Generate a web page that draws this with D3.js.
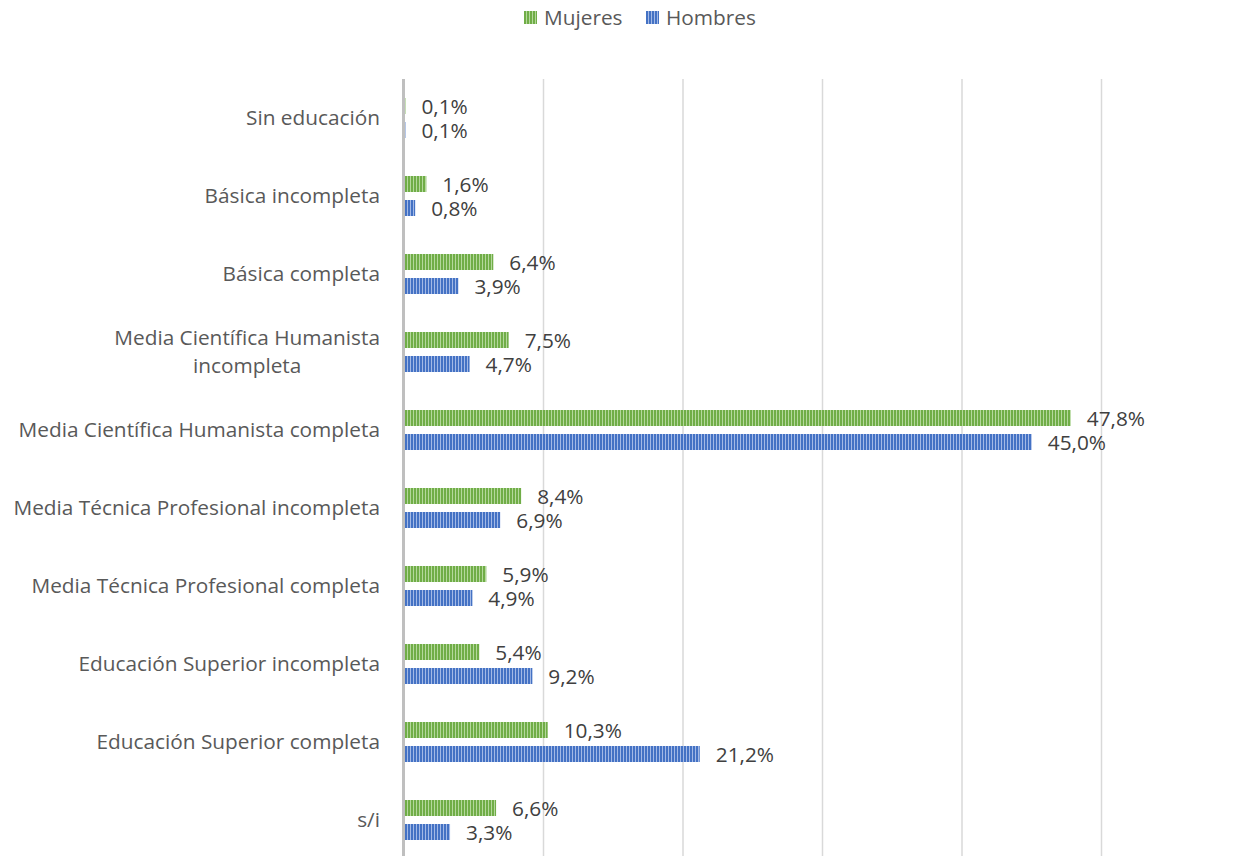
<!DOCTYPE html>
<html>
<head>
<meta charset="utf-8">
<script src="https://cdn.jsdelivr.net/npm/d3@7"></script>
<style>
  body { margin: 0; background: #fff; }
  svg text { font-family: "Open Sans", sans-serif; }
</style>
</head>
<body>
<svg id="chart" width="1241" height="856"></svg>
<script>
// Data
const categories = [
  'Sin educación',
  'Básica incompleta',
  'Básica completa',
  'Media Científica Humanista incompleta',
  'Media Científica Humanista completa',
  'Media Técnica Profesional incompleta',
  'Media Técnica Profesional completa',
  'Educación Superior incompleta',
  'Educación Superior completa',
  's/i'
];
const mujeres = [0.1, 1.6, 6.4, 7.5, 47.8, 8.4, 5.9, 5.4, 10.3, 6.6];
const hombres = [0.1, 0.8, 3.9, 4.7, 45.0, 6.9, 4.9, 9.2, 21.2, 3.3];
const seriesNames = ['Mujeres', 'Hombres'];
const xTicks = [0, 10, 20, 30, 40, 50];

const svg = d3.select('#chart');
const fmt = v => d3.format('.1f')(v).replace('.', ',') + '%';
const fontSize = 20.8;

// Scales
const x = d3.scaleLinear().domain([0, 50]).range([404, 1101.5]);
const y = d3.scaleBand().domain(categories).range([79, 859]);
const inner = d3.scaleBand().domain(seriesNames).range([-20, 20]).paddingInner(1 / 3);

// Striped fills like the Excel pattern
const colors = {
  Mujeres: { dark: '#70ad47', light: '#b4d89c' },
  Hombres: { dark: '#4472c4', light: '#a3b9e6' }
};
const defs = svg.append('defs');
seriesNames.forEach(s => {
  const p = defs.append('pattern')
    .attr('id', 'pat-' + s)
    .attr('patternUnits', 'userSpaceOnUse')
    .attr('width', 3).attr('height', 10);
  p.append('rect').attr('width', 3).attr('height', 10).attr('fill', colors[s].dark);
  p.append('rect').attr('x', 2).attr('width', 1).attr('height', 10).attr('fill', colors[s].light);
});

// Gridlines
svg.append('g')
  .selectAll('line')
  .data(xTicks.slice(1))
  .join('line')
    .attr('x1', d => x(d)).attr('x2', d => x(d))
    .attr('y1', 79).attr('y2', 856)
    .attr('stroke', '#d9d9d9')
    .attr('stroke-width', 1.5);

// Bars
const rows = categories.map((c, i) => ({ cat: c, values: [
  { s: 'Mujeres', v: mujeres[i] },
  { s: 'Hombres', v: hombres[i] }
] }));

const groups = svg.append('g')
  .selectAll('g')
  .data(rows)
  .join('g')
    .attr('transform', d => `translate(0,${y(d.cat) + y.bandwidth() / 2})`);

groups.selectAll('rect')
  .data(d => d.values)
  .join('rect')
    .attr('x', x(0))
    .attr('y', d => inner(d.s))
    .attr('width', d => x(d.v) - x(0))
    .attr('height', inner.bandwidth())
    .attr('fill', d => `url(#pat-${d.s})`);

// Value labels
groups.selectAll('text.val')
  .data(d => d.values)
  .join('text')
    .attr('class', 'val')
    .attr('x', d => x(d.v) + 16)
    .attr('y', d => inner(d.s) + inner.bandwidth() / 2 + 1)
    .attr('dy', '0.35em')
    .attr('font-size', fontSize)
    .attr('fill', '#404040')
    .text(d => fmt(d.v));

// Category labels (wrap the long one, lines centred on each other)
groups.each(function(d) {
  const g = d3.select(this);
  if (d.cat === 'Media Científica Humanista incompleta') {
    const first = g.append('text')
      .attr('x', 380).attr('y', -14).attr('dy', '0.35em')
      .attr('text-anchor', 'end')
      .attr('font-size', fontSize).attr('fill', '#595959')
      .text('Media Científica Humanista');
    const w = first.node().getComputedTextLength();
    g.append('text')
      .attr('x', 380 - w / 2).attr('y', 14).attr('dy', '0.35em')
      .attr('text-anchor', 'middle')
      .attr('font-size', fontSize).attr('fill', '#595959')
      .text('incompleta');
  } else {
    g.append('text')
      .attr('x', 380).attr('y', 0).attr('dy', '0.35em')
      .attr('text-anchor', 'end')
      .attr('font-size', fontSize).attr('fill', '#595959')
      .text(d.cat);
  }
});

// Vertical axis line
svg.append('line')
  .attr('x1', x(0) - 0.5).attr('x2', x(0) - 0.5)
  .attr('y1', 79).attr('y2', 856)
  .attr('stroke', '#bfbfbf')
  .attr('stroke-width', 3);

// Legend
const legendX = [524, 646];
const legend = svg.append('g')
  .selectAll('g')
  .data(seriesNames)
  .join('g')
    .attr('transform', (d, i) => `translate(${legendX[i]},11)`);
legend.append('rect')
  .attr('width', 13).attr('height', 13)
  .attr('fill', d => `url(#pat-${d})`);
legend.append('text')
  .attr('x', 20).attr('y', 7).attr('dy', '0.35em')
  .attr('font-size', fontSize)
  .attr('fill', '#595959')
  .text(d => d);
</script>
</body>
</html>
